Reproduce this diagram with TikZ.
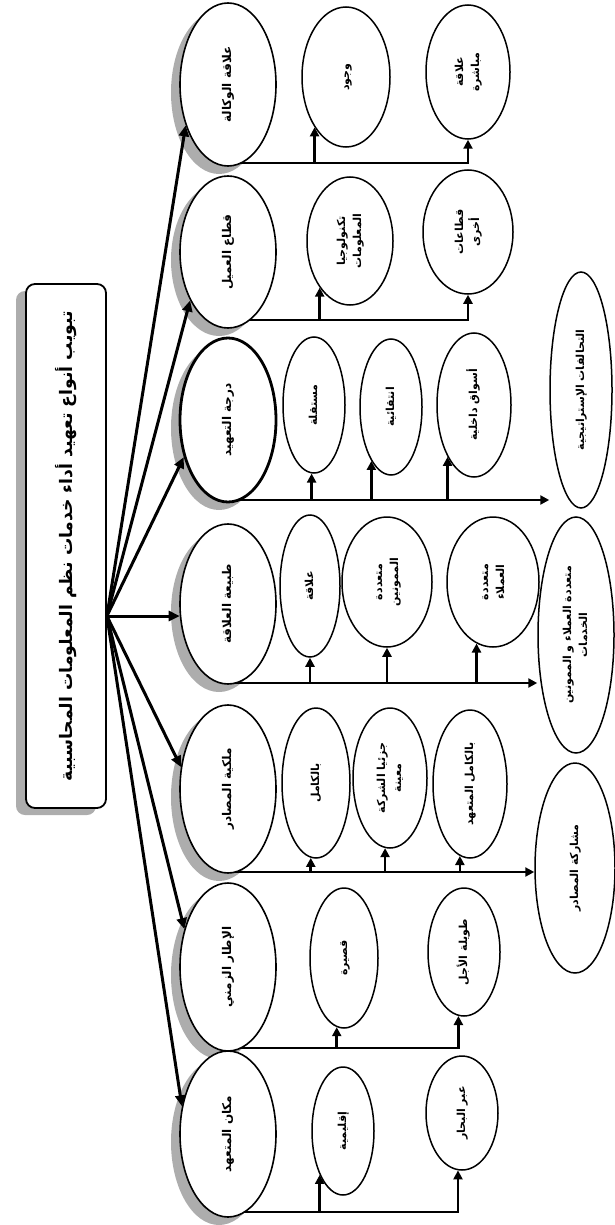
\documentclass[tikz,border=0pt]{standalone}
\usepackage{fontspec}
\usepackage{graphicx}
\usetikzlibrary{shapes.geometric,arrows.meta,backgrounds,calc}
\TeXXeTstate=1
\newfontfamily\arfont[Script=Arabic]{DejaVu Sans}
\newcommand{\rtx}[1]{\rotatebox{90}{\begin{tabular}{@{}c@{}}#1\end{tabular}}}
\newcommand{\mainnode}[6][]{%
  \begin{scope}[on background layer]
    \fill[shadowc] (#3-9,#4+8) ellipse [x radius=48, y radius=#5];
  \end{scope}
  \node[main, minimum height=2*#5, #1] (#2) at (#3,#4) {\rtx{#6}};
}
\begin{document}
\begin{tikzpicture}[x=1pt,y=-1pt,
  main/.style={ellipse, draw, line width=1.6pt, fill=white, inner sep=0pt, minimum width=96pt,
    font=\arfont\bfseries\fontsize{12}{15}\selectfont},
  kid/.style={ellipse, draw, line width=1.5pt, fill=white, inner sep=0pt,
    font=\arfont\bfseries\fontsize{11}{16}\selectfont},
  shadowc/.style={fill=black!32},
  arr/.style={line width=2.6pt, -{Triangle[length=9pt,width=9pt]}},
  hubarr/.style={line width=3pt, -{Triangle[length=11pt,width=10pt]}},
  titlebox/.style={draw, line width=1.8pt, rounded corners=9pt, fill=white, inner sep=0pt,
    minimum width=80pt, minimum height=524pt, font=\arfont\bfseries}
]
\useasboundingbox (0,0) rectangle (614,1225);

% title
\begin{scope}[on background layer]
  \fill[shadowc, rounded corners=9pt] (16,291) rectangle (96,815);
\end{scope}
\node[titlebox] (title) at (66,546)
  {\rotatebox{90}{\resizebox{470pt}{!}{\beginR تبويب أنواع تعهيد أداء خدمات نظم المعلومات المحاسبية\endR}}};

% main categories
\mainnode{A}{228}{84.5}{81.5}{\beginR علاقة الوكالة\endR}
\mainnode{B}{228}{252}{76}{\beginR قطاع العميل\endR}
\mainnode[line width=2.8pt]{C}{228}{420}{82}{\beginR درجة التعهيد\endR}
\mainnode{D}{228}{604}{80}{\beginR طبيعة العلاقة\endR}
\mainnode{E}{228}{789}{84}{\beginR ملكية المصادر\endR}
\mainnode{F}{228}{967}{84}{\beginR الإطار الزمني\endR}
\mainnode{G}{228}{1134}{83}{\beginR مكان المتعهد\endR}

% children row A
\node[kid, minimum width=88, minimum height=140] (a1) at (346,77) {\rtx{\beginR وجود\endR}};
\node[kid, minimum width=84, minimum height=134] (a2) at (468,72) {\rtx{\beginR علاقة\endR\\\beginR مباشرة\endR}};
% row B
\node[kid, minimum width=86, minimum height=128] (b1) at (350,241) {\rtx{\beginR تكنولوجيا\endR\\\beginR المعلومات\endR}};
\node[kid, minimum width=90, minimum height=124] (b2) at (468,232) {\rtx{\beginR قطاعات\endR\\\beginR أخرى\endR}};
% row C
\node[kid, minimum width=62, minimum height=136] (c1) at (314,405) {\rtx{\beginR مستقلة\endR}};
\node[kid, minimum width=62, minimum height=136] (c2) at (391,407) {\rtx{\beginR انتقائية\endR}};
\node[kid, minimum width=74, minimum height=144] (c3) at (474,405) {\rtx{\beginR أسواق داخلية\endR}};
\node[kid, minimum width=62, minimum height=236] (ct) at (581,390) {\rtx{\beginR التحالفات الإستراتيجية\endR}};
% row D
\node[kid, minimum width=60, minimum height=142] (d1) at (310,586) {\rtx{\beginR علاقة\endR}};
\node[kid, minimum width=90, minimum height=130] (d2) at (387,582) {\rtx{\beginR متعددة\endR\\\beginR الممونين\endR}};
\node[kid, minimum width=92, minimum height=130] (d3) at (493,582) {\rtx{\beginR متعددة\endR\\\beginR العملاء\endR}};
\node[kid, minimum width=76, minimum height=236] (dt) at (576,635) {\rtx{\beginR متعددة العملاء و الممونين\endR\\\beginR الخدمات\endR}};
% row E
\node[kid, minimum width=68, minimum height=150] (e1) at (316,783) {\rtx{\beginR بالكامل\endR}};
\node[kid, minimum width=74, minimum height=140] (e2) at (390,778) {\rtx{\beginR جزئيا الشركة\endR\\\beginR معينة\endR}};
\node[kid, minimum width=74, minimum height=148] (e3) at (470,784) {\rtx{\beginR بالكامل المتعهد\endR}};
\node[kid, minimum width=80, minimum height=210] (et) at (575,868) {\rtx{\beginR مشاركة المصادر\endR}};
% row F
\node[kid, minimum width=68, minimum height=140] (f1) at (344,958) {\rtx{\beginR قصيرة\endR}};
\node[kid, minimum width=72, minimum height=128] (f2) at (464,952) {\rtx{\beginR طويلة الأجل\endR}};
% row G
\node[kid, minimum width=62, minimum height=128] (g1) at (343,1131) {\rtx{\beginR إقليمية\endR}};
\node[kid, minimum width=72, minimum height=114] (g2) at (462,1113) {\rtx{\beginR عبر البحار\endR}};

% levels of the row lines
\coordinate (la) at (0,163);
\coordinate (lb) at (0,320);
\coordinate (lc) at (0,500);
\coordinate (ld) at (0,683);
\coordinate (le) at (0,872);
\coordinate (lf) at (0,1048);
\coordinate (lg) at (0,1212);

\begin{scope}[on background layer]
  % row A
  \draw[arr] (A.center |- la) -| (a2.270);
  \draw[arr] (a1.238 |- la) -- (a1.238);
  % row B
  \draw[arr] (B.center |- lb) -| (b2.270);
  \draw[arr] (b1.237 |- lb) -- (b1.237);
  % row C
  \draw[arr] (C.center |- lc) -- (ct.west |- lc);
  \draw[arr] (c1.268 |- lc) -- (c1.268);
  \draw[arr] (c2.250 |- lc) -- (c2.250);
  \draw[arr] (c3.243 |- lc) -- (c3.243);
  % row D
  \draw[arr] (D.center |- ld) -- (dt.west |- ld);
  \draw[arr] (d1.270 |- ld) -- (d1.270);
  \draw[arr] (d2.270 |- ld) -- (d2.270);
  \draw[arr] (d3.255 |- ld) -- (d3.255);
  % row E
  \draw[arr] (E.center |- le) -- (et.west |- le);
  \draw[arr] (e1.266 |- le) -- (e1.266);
  \draw[arr] (e2.266 |- le) -- (e2.266);
  \draw[arr] (e3.262 |- le) -- (e3.262);
  % row F
  \draw[arr] (F.center |- lf) -| (f2.265);
  \draw[arr] (f1.264 |- lf) -- (f1.264);
  % row G
  \draw[arr] (G.center |- lg) -| (g2.266);
  \draw[arr] (g1.242 |- lg) -- (g1.242);
\end{scope}

% hub arrows
\coordinate (hub) at (title.east |- D.194);
\draw[hubarr] (hub) -- (A.224);
\draw[hubarr] (hub) -- (B.232);
\draw[hubarr] (hub) -- (C.220);
\draw[hubarr] (hub) -- (D.194);
\draw[hubarr] (hub) -- (E.155);
\draw[hubarr] (hub) -- (F.139);
\draw[hubarr] (hub) -- (G.149);
\end{tikzpicture}
\end{document}
